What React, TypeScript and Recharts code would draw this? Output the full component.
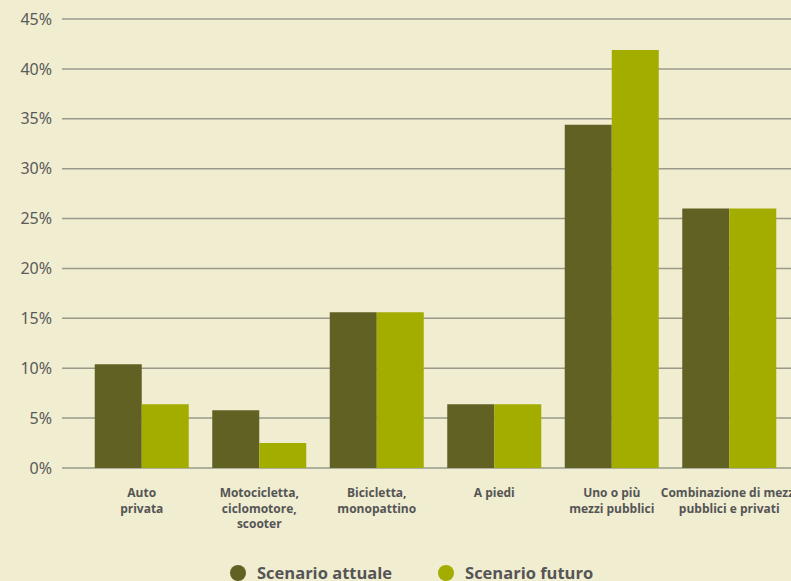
import React from 'react';
import { BarChart, Bar, XAxis, YAxis, CartesianGrid, Legend } from 'recharts';

const categories = [
  'Auto privata',
  'Motocicletta, ciclomotore, scooter',
  'Bicicletta, monopattino',
  'A piedi',
  'Uno o più mezzi pubblici',
  'Combinazione di mezzi pubblici e privati',
];
const labelLines = [
  ['Auto', 'privata'],
  ['Motocicletta,', 'ciclomotore,', 'scooter'],
  ['Bicicletta,', 'monopattino'],
  ['A piedi'],
  ['Uno o più', 'mezzi pubblici'],
  ['Combinazione di mezzi', 'pubblici e privati'],
];
const attuale = [10.4, 5.8, 15.6, 6.4, 34.4, 26.0];
const futuro = [6.4, 2.5, 15.6, 6.4, 41.9, 26.0];
const yTicks = [0, 5, 10, 15, 20, 25, 30, 35, 40, 45];
const seriesNames = ['Scenario attuale', 'Scenario futuro'];

const data = categories.map((c, i) => ({
  name: c,
  attuale: attuale[i],
  futuro: futuro[i],
}));

const DARK = '#616124';
const LIGHT = '#a3ad00';
const BG = '#f0edd0';

function XTick(props: any) {
  const { x, y, payload, index } = props;
  const lines = labelLines[index] ?? [payload.value];
  return (
    <text
      x={x}
      y={y}
      textAnchor="middle"
      fill="#555555"
      fontFamily="'Open Sans', sans-serif"
      fontWeight={700}
      fontSize={12}
    >
      {lines.map((l: string, i: number) => (
        <tspan key={i} x={x} y={y + 21 + i * 15.5}>
          {l}
        </tspan>
      ))}
    </text>
  );
}

function LegendContent() {
  const colors = [DARK, LIGHT];
  return (
    <div style={{ display: 'flex', alignItems: 'center', fontFamily: "'Open Sans', sans-serif", fontWeight: 700, fontSize: 16.5, color: '#555555' }}>
      {seriesNames.map((n, i) => (
        <div key={n} style={{ display: 'flex', alignItems: 'center', marginRight: i === 0 ? 46 : 0 }}>
          <span style={{ width: 16, height: 16, borderRadius: 8, background: colors[i], display: 'inline-block', marginRight: 11 }} />
          <span>{n}</span>
        </div>
      ))}
    </div>
  );
}

export default function App() {
  return (
    <div style={{ position: 'absolute', left: 0, top: 0, width: 791, height: 581, overflow: 'hidden', background: BG }}>
      <BarChart
        width={808}
        height={581}
        data={data}
        margin={{ top: 19, right: 0, bottom: 0, left: 0 }}
        barCategoryGap="10%"
        barGap={0}
      >
        <CartesianGrid vertical={false} stroke="#9a9a8c" strokeWidth={1.5} />
        <XAxis
          dataKey="name"
          axisLine={false}
          tickLine={false}
          interval={0}
          height={89}
          padding={{ left: 21, right: 20 }}
          tick={<XTick />}
        />
        <YAxis
          width={62}
          domain={[0, 45]}
          ticks={yTicks}
          axisLine={false}
          tickLine={false}
          tickMargin={4}
          tickFormatter={(v: number) => `${v}%`}
          tick={{ fill: '#5a5a5a', fontSize: 16, fontFamily: "'Noto Sans', sans-serif" }}
        />
        <Legend
          verticalAlign="bottom"
          height={40}
          content={<LegendContent />}
          wrapperStyle={{ left: 230, top: 561, width: 420, height: 24 }}
        />
        <Bar dataKey="attuale" name={seriesNames[0]} fill={DARK} isAnimationActive={false} />
        <Bar dataKey="futuro" name={seriesNames[1]} fill={LIGHT} isAnimationActive={false} />
      </BarChart>
    </div>
  );
}
